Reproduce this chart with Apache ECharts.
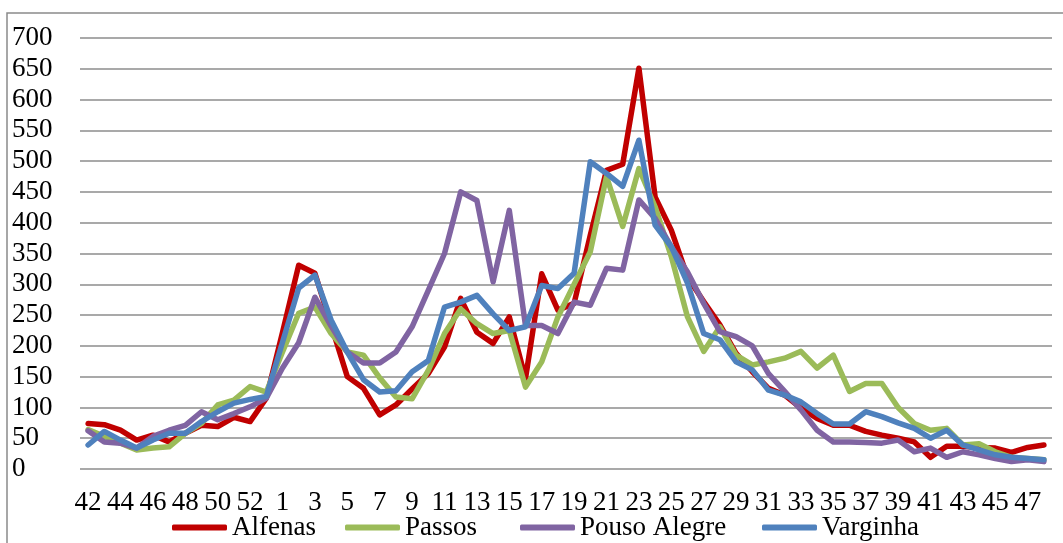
<!DOCTYPE html>
<html>
<head>
<meta charset="utf-8">
<script src="https://cdn.jsdelivr.net/npm/echarts@6/dist/echarts.min.js"></script>
<style>
  html, body { margin: 0; padding: 0; background: #fff; }
  #chart { width: 1063px; height: 543px; }
</style>
</head>
<body>
<div id="chart"></div>
<script>
// epidemiological weeks 42..53, then 1..48
const weeks = ['42','43','44','45','46','47','48','49','50','51','52','53',
  '1','2','3','4','5','6','7','8','9','10','11','12','13','14','15','16','17','18','19','20',
  '21','22','23','24','25','26','27','28','29','30','31','32','33','34','35','36','37','38','39','40',
  '41','42','43','44','45','46','47','48'];

const alfenas = [74,72,63,47,55,44,58,71,69,84,77,115,222,331,318,234,150,131,88,104,
  130,155,198,277,222,204,247,147,317,258,269,380,485,495,651,442,388,312,272,234,
  188,158,131,120,99,82,71,71,61,55,50,44,19,37,37,35,34,27,35,39];
const passos = [64,53,42,31,34,36,58,74,104,112,134,125,190,253,263,220,190,185,148,117,
  114,160,220,260,236,220,225,133,174,247,300,353,475,394,488,426,345,247,191,231,
  185,169,174,180,191,164,185,126,139,139,100,74,63,66,39,41,28,19,17,15];
const pousoAlegre = [62,44,42,34,53,63,71,93,80,90,101,115,164,205,279,232,190,172,172,190,
  231,290,350,450,436,304,420,233,233,220,271,266,326,323,437,407,361,320,269,223,
  215,200,155,126,96,63,44,44,43,42,47,28,34,19,28,23,17,12,15,12];
const varginha = [39,61,47,34,47,58,58,77,93,107,113,118,206,294,315,242,190,145,125,127,
  158,176,263,271,282,252,225,231,298,293,318,499,480,459,534,396,361,302,220,210,
  174,161,128,120,109,90,73,73,93,85,75,66,50,63,39,31,23,19,17,15];

const seriesNames = ['Alfenas', 'Passos', 'Pouso Alegre', 'Varginha'];
const seriesData = [alfenas, passos, pousoAlegre, varginha];
const COLORS = ['#C00000', '#9BBB59', '#8064A2', '#4F81BD'];

const FONT = 'Liberation Serif';
const TEXT = '#000';
const GRID = '#8c8c8c';

const chart = echarts.init(document.getElementById('chart'));

// legend entries sit at fixed spots under the axis, like the original
const legendLeft = [172, 345, 520, 762];

chart.setOption({
  animation: false,
  backgroundColor: '#fff',
  textStyle: { fontFamily: FONT, color: TEXT },
  graphic: [
    {
      type: 'rect',
      shape: { x: 7, y: 13, width: 1200, height: 700 },
      style: { fill: 'none', stroke: '#8a8a8a', lineWidth: 1.5 },
      silent: true,
      z: -1
    }
  ],
  grid: { left: 80, right: 11, top: 38, bottom: 74 },
  legend: seriesNames.map((name, k) => ({
    data: [name],
    left: legendLeft[k],
    top: 514,
    padding: 0,
    icon: 'roundRect',
    itemWidth: 55,
    itemHeight: 6,
    selectedMode: false,
    textStyle: { fontFamily: FONT, fontSize: 27, color: TEXT }
  })),
  xAxis: {
    type: 'category',
    data: weeks,
    boundaryGap: true,
    axisLine: { show: false },
    axisTick: { show: false },
    axisLabel: {
      interval: 1,
      margin: 20,
      fontFamily: FONT,
      fontSize: 27,
      color: TEXT
    }
  },
  yAxis: {
    type: 'value',
    min: 0,
    max: 700,
    interval: 50,
    axisLine: { show: false },
    axisTick: { show: false },
    axisLabel: {
      align: 'left',
      margin: 68,
      fontFamily: FONT,
      fontSize: 27,
      color: TEXT
    },
    splitLine: { lineStyle: { color: GRID, width: 1.5 } }
  },
  series: seriesNames.map((name, k) => ({
    name: name,
    type: 'line',
    data: seriesData[k],
    showSymbol: false,
    symbol: 'none',
    color: COLORS[k],
    lineStyle: { color: COLORS[k], width: 5.5, cap: 'round', join: 'round' }
  }))
});
</script>
</body>
</html>
